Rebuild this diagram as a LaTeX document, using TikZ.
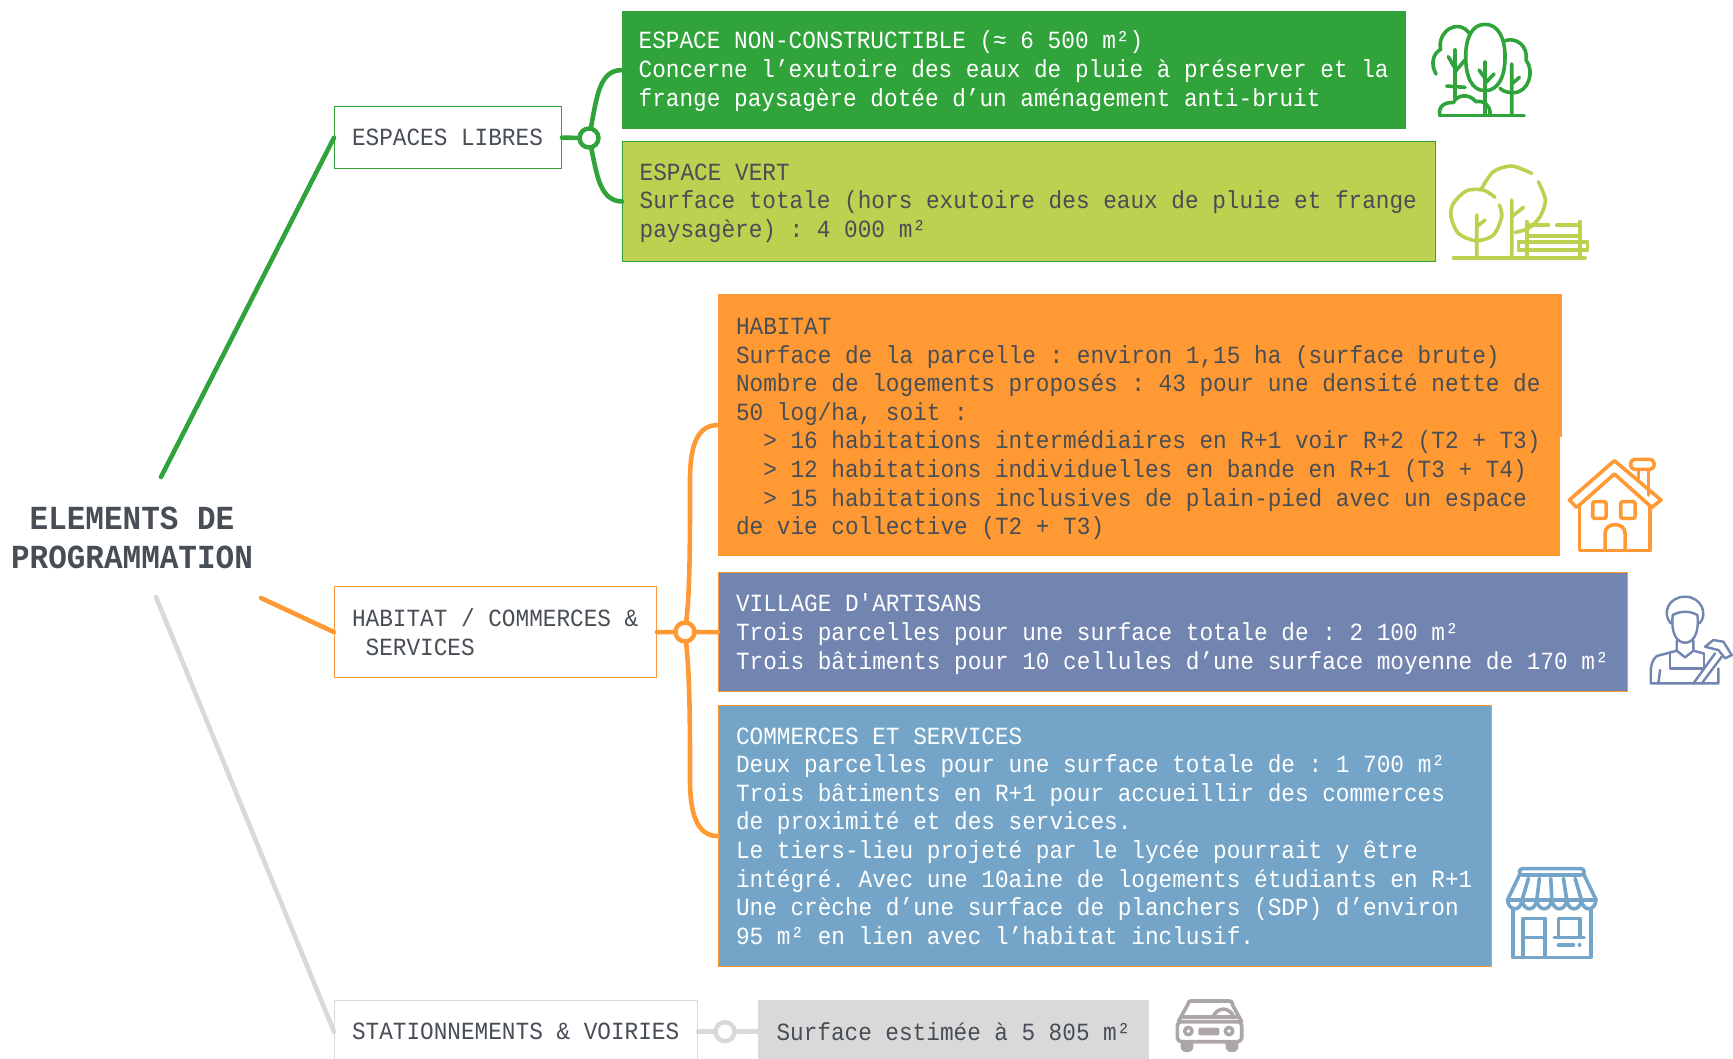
\documentclass[tikz,border=0pt]{standalone}
\usepackage{fontspec}
\newfontfamily\monofont[FakeStretch=0.92]{Liberation Mono}
\definecolor{vertfonce}{RGB}{48,163,58}
\definecolor{vertclair}{RGB}{189,208,80}
\definecolor{orangevif}{RGB}{255,153,51}
\definecolor{bleuardoise}{RGB}{113,133,176}
\definecolor{bleuciel}{RGB}{116,165,200}
\definecolor{grisclair}{RGB}{217,217,217}
\definecolor{grisicone}{RGB}{173,166,168}
\definecolor{encre}{RGB}{72,78,86}

\begin{document}
\begin{tikzpicture}[x=0.5pt,y=-0.5pt]
			\tikzstyle{every node}=[font=\monofont\frenchspacing\fontsize{12.35}{14.3}\selectfont, text=encre]
			\tikzstyle{boite}=[rectangle, draw, anchor=north west, align=flush left, inner xsep=8.65pt, inner ysep=0pt, line width=0.7pt]
			\tikzstyle{etiquette}=[boite, fill=white]
			\tikzstyle{rond}=[circle, draw, fill=white, line width=2.2pt, inner sep=0pt, minimum size=9.5pt]
			\tikzstyle{branche}=[line width=2.3pt, line cap=round]
			\tikzstyle{icone}=[line width=1.8pt, line cap=round, line join=round]
			\useasboundingbox (0,0) rectangle (1733,1059);
			\clip (0,0) rectangle (1733,1059);

			\node[align=flush center, font=\monofont\bfseries\fontsize{16.85}{19.35}\selectfont] (titre) at (132,538) {ELEMENTS DE\\PROGRAMMATION};
			\coordinate (departlibres) at (161,477);
			\coordinate (departhabitat) at (261,598);
			\coordinate (departstation) at (156,597);

			\node[etiquette, draw=vertfonce, minimum width=113.3pt, minimum height=31pt, text width=96pt] (libres) at (334,106) {ESPACES LIBRES};
			\node[rond, draw=vertfonce] (rondlibres) at (589,138) {};
			\node[boite, draw=vertfonce, fill=vertfonce, text=white, inner xsep=8pt, minimum width=391.3pt, minimum height=58.4pt, text width=375.3pt] (noncons) at (622,11) {\rule{0pt}{10pt}ESPACE NON-CONSTRUCTIBLE (≈ 6 500 m²)\\Concerne l’exutoire des eaux de pluie à préserver et la\\frange paysagère dotée d’un aménagement anti-bruit};
			\node[boite, draw=vertfonce, fill=vertclair, inner xsep=8.5pt, minimum width=406.3pt, minimum height=59.8pt, text width=389.3pt] (espacevert) at (622,141) {\rule{0pt}{10pt}ESPACE VERT\\Surface totale (hors exutoire des eaux de pluie et frange\\paysagère) : 4 000 m²};
			\draw[branche, vertfonce] (departlibres)--(libres.west);
			\draw[branche, vertfonce] (libres.east)--(rondlibres);
			\draw[branche, vertfonce] (rondlibres) .. controls (597,95) and (600,70) .. (noncons.west);
			\draw[branche, vertfonce] (rondlibres) .. controls (597,175) and (600,201) .. (espacevert.west);

			\node[etiquette, draw=orangevif, minimum width=160.8pt, minimum height=45.4pt, text width=143.5pt] (habcom) at (334,586) {HABITAT / COMMERCES \&\\\phantom{x}SERVICES};
			\node[rond, draw=orangevif] (rondhabcom) at (685,632) {};
			\fill[orangevif] (718,294) rectangle (1562,437);
			\node[boite, draw=orangevif, fill=orangevif, minimum width=420.3pt, minimum height=130.4pt, text width=403pt] (habitat) at (718,294) {\rule{0pt}{12pt}HABITAT\\Surface de la parcelle : environ 1,15 ha (surface brute)\\Nombre de logements proposés : 43 pour une densité nette de\\50 log/ha, soit :\\\phantom{xx}> 16 habitations intermédiaires en R+1 voir R+2 (T2 + T3)\\\phantom{xx}> 12 habitations individuelles en bande en R+1 (T3 + T4)\\\phantom{xx}> 15 habitations inclusives de plain-pied avec un espace\\de vie collective (T2 + T3)};
			\node[boite, draw=orangevif, fill=bleuardoise, text=white, minimum width=454.3pt, minimum height=59.4pt, text width=437pt] (village) at (718,572) {\rule{0pt}{11pt}VILLAGE D'ARTISANS\\Trois parcelles pour une surface totale de : 2 100 m²\\Trois bâtiments pour 10 cellules d’une surface moyenne de 170 m²};
			\node[boite, draw=orangevif, fill=bleuciel, text=white, minimum width=386.3pt, minimum height=130.4pt, text width=369pt] (commerces) at (718,705) {COMMERCES ET SERVICES\\Deux parcelles pour une surface totale de : 1 700 m²\\Trois bâtiments en R+1 pour accueillir des commerces\\de proximité et des services.\\Le tiers-lieu projeté par le lycée pourrait y être\\intégré. Avec une 10aine de logements étudiants en R+1\\Une crèche d’une surface de planchers (SDP) d’environ\\95 m² en lien avec l’habitat inclusif.};
			\draw[branche, orangevif] (departhabitat)--(habcom.west);
			\draw[branche, orangevif] (habcom.east)--(rondhabcom)--(village.west);
			\draw[branche, orangevif] (rondhabcom) .. controls (690,590) and (690,540) .. (690,480) .. controls (690,440) and (700,425) .. (habitat.west);
			\draw[branche, orangevif] (rondhabcom) .. controls (690,680) and (690,730) .. (690,780) .. controls (690,820) and (700,836) .. (commerces.west);

			\node[etiquette, draw=grisclair, minimum width=181.3pt, minimum height=31pt, text width=164pt] (station) at (334,1000) {STATIONNEMENTS \& VOIRIES};
			\node[rond, draw=grisclair] (rondstation) at (725,1031.7) {};
			\node[boite, draw=grisclair, fill=grisclair, minimum width=194.8pt, minimum height=31pt, text width=177pt] (surface) at (758,1000) {Surface estimée à 5 805 m²};
			\draw[branche, grisclair] (departstation)--(station.west);
			\draw[branche, grisclair] (station.east)--(rondstation)--(surface.west);

			\begin{scope}[xshift=700pt, x=0.1667pt, y=-0.1667pt, icone, vertfonce]
				\draw (108,222) .. controls (90,190) and (100,160) .. (122,148) .. controls (110,100) and (170,50) .. (208,100);
				\draw (255,73) .. controls (295,73) and (315,115) .. (315,170) .. controls (315,230) and (295,272) .. (255,272) .. controls (215,272) and (197,230) .. (197,170) .. controls (197,115) and (215,73) .. (255,73) -- cycle;
				\draw (315,122) .. controls (350,110) and (385,140) .. (378,180) .. controls (405,215) and (385,278) .. (340,278) .. controls (325,278) and (310,275) .. (300,265);
				\draw (165,148)--(165,295) (145,170)--(165,205) (195,180)--(165,215) (140,258)--(195,262);
				\draw (255,185)--(255,345) (237,210)--(255,235) (282,222)--(255,250);
				\draw (335,192)--(335,345) (358,232)--(335,252);
				\draw (120,347)--(372,347);
				\draw (120,347) .. controls (112,320) and (135,305) .. (160,308) .. controls (170,285) and (205,278) .. (228,305) .. controls (255,300) and (272,320) .. (270,342);
			\end{scope}
			\begin{scope}[xshift=700pt, x=0.1667pt, y=-0.1667pt, icone, vertclair]
				\draw plot[smooth] coordinates {(285,592) (250,570) (200,572) (160,610) (153,650) (175,700) (228,722) (280,705) (305,650) (298,615)};
				\draw plot[smooth] coordinates {(245,565) (280,515) (335,498) (395,520)};
				\draw plot[smooth] coordinates {(415,545) (436,600) (420,650) (385,685) (345,697)};
				\draw (230,645)--(230,772) (255,660)--(230,680);
				\draw (335,600)--(335,772) (370,622)--(335,650);
				\draw (380,665)--(380,772) (540,665)--(540,772);
				\draw (380,675)--(445,675) (470,675)--(540,675) (385,708)--(535,708);
				\draw (355,725) rectangle (562,750);
				\draw (160,773)--(555,773);
			\end{scope}
			\begin{scope}[xshift=740pt, yshift=-210pt, x=0.1667pt, y=-0.1667pt, icone, orangevif]
				\draw (268,240)--(403,122)--(543,240)--(515,262)--(403,162)--(290,262)--cycle;
				\draw (298,262)--(298,392)--(510,392)--(510,262);
				\draw[rounded corners=2pt] (452,118) rectangle (522,148);
				\draw (475,150)--(475,175) (505,150)--(505,225);
				\draw[rounded corners=1pt] (338,245) rectangle (378,295);
				\draw[rounded corners=1pt] (422,245) rectangle (465,295);
				\draw (375,392)--(375,340) .. controls (375,305) and (435,305) .. (435,340)--(435,392);
			\end{scope}
			\begin{scope}[xshift=740pt, yshift=-210pt, x=0.1667pt, y=-0.1667pt, line width=1.2pt, line cap=round, line join=round, bleuardoise]
				\draw (572,610) .. controls (545,580) and (565,530) .. (615,530) .. controls (665,530) and (685,585) .. (658,610);
				\draw (578,585) .. controls (572,640) and (590,668) .. (615,668) .. controls (640,668) and (658,640) .. (652,585);
				\draw (578,585) .. controls (600,572) and (630,572) .. (652,585);
				\draw (590,662)--(590,692)--(530,708) .. controls (515,720) and (512,740) .. (512,760)--(512,790)--(715,790)--(715,745);
				\draw (640,662)--(640,692)--(670,700);
				\draw (570,698)--(570,745)--(672,745)--(672,700);
				\draw (540,750)--(535,790);
				\draw (590,692)--(615,712)--(640,692);
				\draw (640,790)--(705,700) (665,790)--(725,710);
				\draw (675,680)--(700,660)--(730,665)--(755,705)--(735,715)--(715,690)--cycle;
			\end{scope}
			\begin{scope}[xshift=565pt, yshift=-425pt, x=0.1667pt, y=-0.1667pt, icone, bleuciel]
				\draw[rounded corners=1.5pt] (1168,56) rectangle (1362,75);
				\draw (1168,75)--(1132,150) (1362,75)--(1398,150);
				\draw (1132,150) .. controls (1136,185) and (1172,185) .. (1176,150) .. controls (1180,185) and (1216,185) .. (1220,150) .. controls (1224,185) and (1260,185) .. (1265,150) .. controls (1270,185) and (1306,185) .. (1310,150) .. controls (1314,185) and (1350,185) .. (1354,150) .. controls (1358,185) and (1394,185) .. (1398,150)--cycle;
				\draw (1195,85)--(1176,150) (1228,85)--(1220,150) (1262,85)--(1265,150) (1300,85)--(1310,150) (1335,85)--(1354,150);
				\draw (1148,178)--(1148,322)--(1382,322)--(1382,178);
				\draw (1178,205) rectangle (1245,322);
				\draw (1178,262)--(1245,262);
				\draw (1285,262)--(1285,205)--(1350,205)--(1350,262);
				\draw (1272,262)--(1362,262);
				\draw (1285,285)--(1330,285) (1348,285)--(1349,285);
			\end{scope}
			\begin{scope}[xshift=565pt, yshift=-425pt, x=0.1667pt, y=-0.1667pt, icone, grisicone]
				\draw (145,515)--(175,460)[rounded corners=1pt]--(175,453)--(305,453)--(305,460)--(335,515);
				\draw[rounded corners=2pt] (142,515) rectangle (335,575);
				\draw (160,500)--(320,500);
				\draw (250,500) .. controls (260,470) and (300,470) .. (310,500);
				\draw (175,543) circle[radius=11];
				\draw (297,543) circle[radius=11];
				\fill[rounded corners=1pt] (205,533) rectangle (268,556);
				\fill (152,575) -- (190,575) -- (190,590) .. controls (190,612) and (152,612) .. (152,590) -- cycle;
				\fill (287,575) -- (325,575) -- (325,590) .. controls (325,612) and (287,612) .. (287,590) -- cycle;
			\end{scope}
		\end{tikzpicture}
\end{document}
